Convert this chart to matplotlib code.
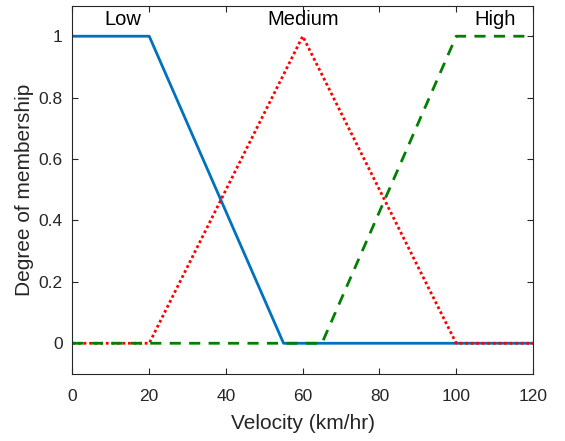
import numpy as np
import matplotlib
matplotlib.use("Agg")
import matplotlib.pyplot as plt

# ── Membership function breakpoints (velocity in km/hr) ──────────────────────
low_x = [0, 20, 55, 120]
low_y = [1, 1, 0, 0]

medium_x = [0, 20, 60, 100, 120]
medium_y = [0, 0, 1, 0, 0]

high_x = [0, 65, 100, 120]
high_y = [0, 0, 1, 1]

labels = ["Low", "Medium", "High"]
label_x = [13, 60, 110]
label_y = [1.055, 1.055, 1.055]

x_ticks = [0, 20, 40, 60, 80, 100, 120]
y_ticks = [0, 0.2, 0.4, 0.6, 0.8, 1]
y_tick_labels = ["0", "0.2", "0.4", "0.6", "0.8", "1"]

AXIS = "#262626"

plt.rcParams.update({
    "font.family": ["Liberation Sans", "DejaVu Sans"],
    "axes.edgecolor": AXIS,
    "xtick.color": AXIS,
    "ytick.color": AXIS,
    "axes.labelcolor": AXIS,
})

fig = plt.figure(figsize=(5.65, 4.41), dpi=100)
ax = fig.add_axes([0.1283, 0.152, 0.8150, 0.8355])

ax.plot(low_x, low_y, color="#0072BD", linewidth=2.0, linestyle="-")
ax.plot(medium_x, medium_y, color="#FF0000", linewidth=2.0, linestyle=(0, (1, 1)))
ax.plot(high_x, high_y, color="#008000", linewidth=2.0, linestyle=(0, (4, 3)))

for txt, tx, ty in zip(labels, label_x, label_y):
    ax.text(tx, ty, txt, ha="center", va="center", fontsize=14.5, color="black")

ax.set_xlim(0, 120)
ax.set_ylim(-0.1, 1.1)
ax.set_xticks(x_ticks)
ax.set_yticks(y_ticks)
ax.set_yticklabels(y_tick_labels)
ax.tick_params(direction="in", top=True, right=True, length=4, width=0.8,
               labelsize=12.5)
ax.tick_params(axis="x", pad=11)
ax.tick_params(axis="y", pad=7)

for side in ax.spines.values():
    side.set_linewidth(0.8)

ax.set_xlabel("Velocity (km/hr)", fontsize=15, labelpad=7)
ax.set_ylabel("Degree of membership", fontsize=15, labelpad=3)

fig.savefig("out.png", dpi=100)
